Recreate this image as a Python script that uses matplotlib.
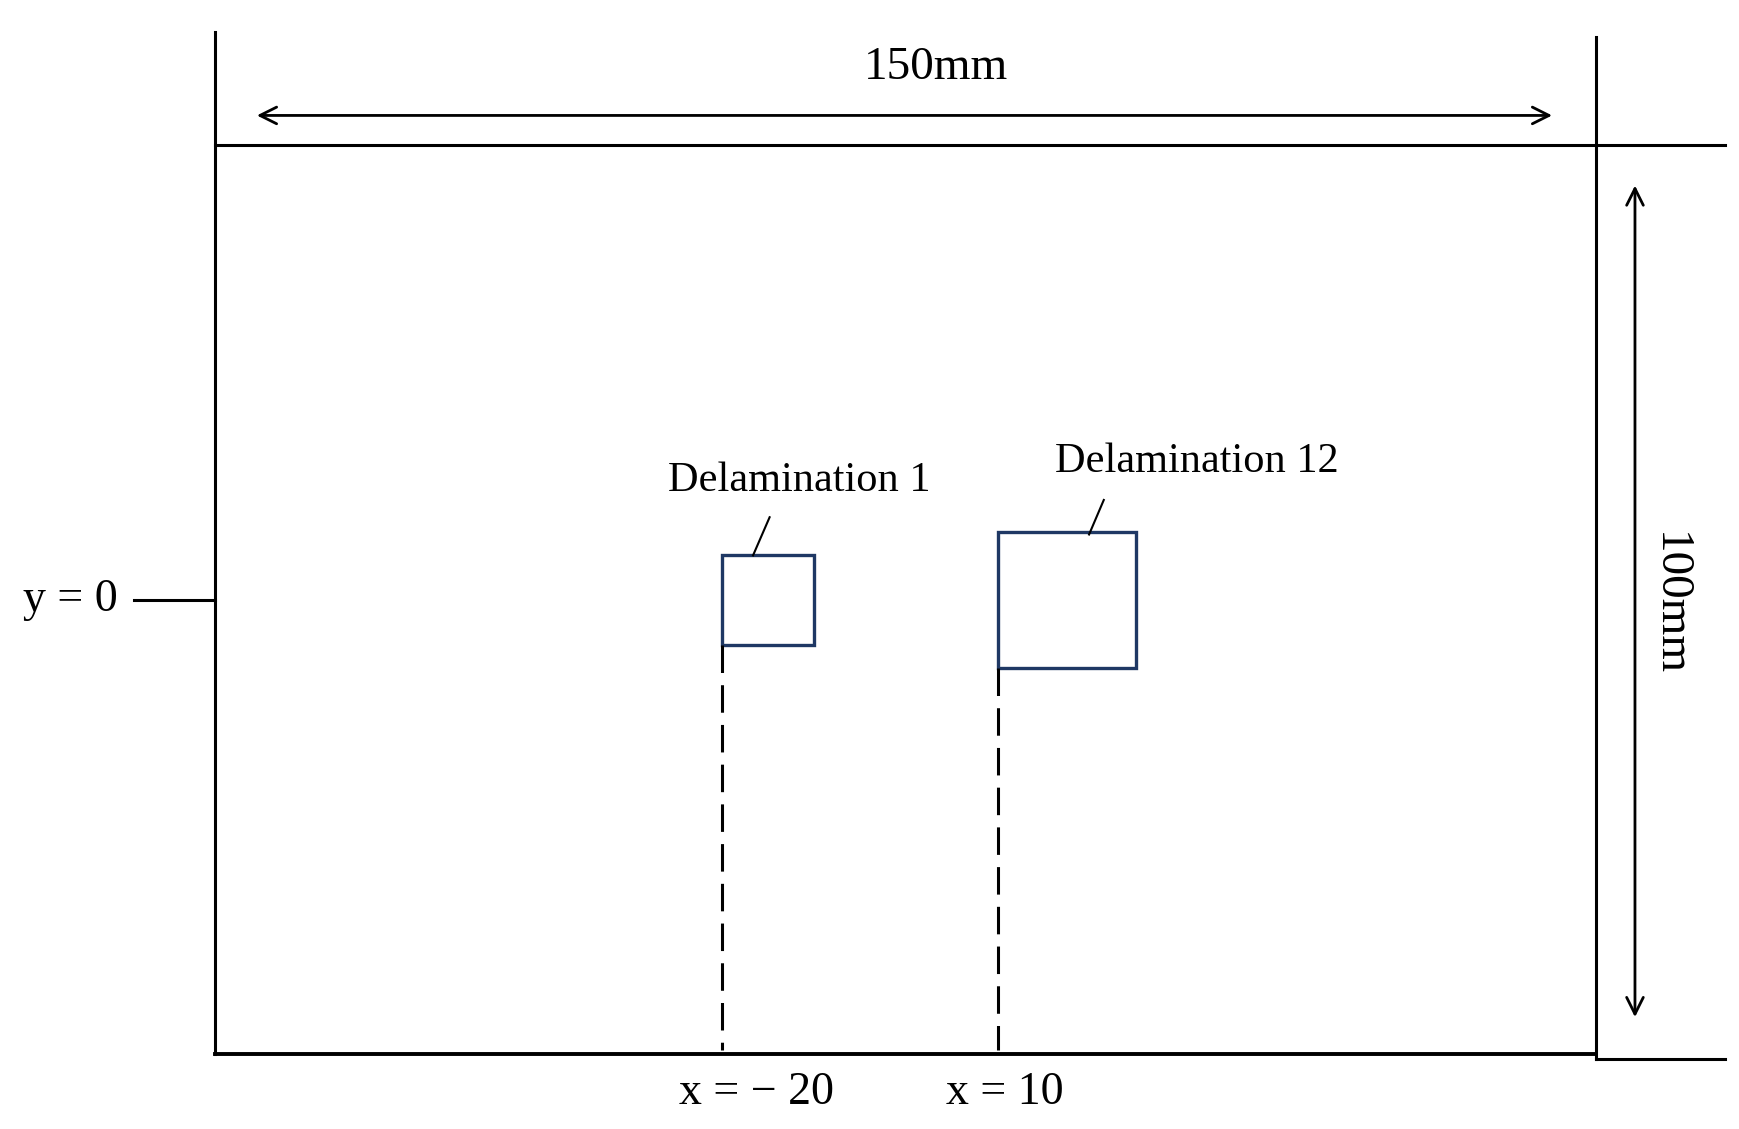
import matplotlib
matplotlib.use("Agg")
import matplotlib.pyplot as plt
from matplotlib.patches import Rectangle

# Geometry in mm (plate centred at origin)
plate_w, plate_h = 150, 100
delam_names = ["Delamination 1", "Delamination 12"]
delam_x = [-20, 10]        # left edge x (mm)
delam_size = [10, 15]      # side length (mm)
x_labels = ["x = \u2212 20", "x = 10"]

fig = plt.figure(figsize=(17.39, 11.29), dpi=100)
ax = fig.add_axes([0, 0, 1, 1])
ax.set_xlim(-98.4, 90.5)
ax.set_ylim(-58.2, 66.0)
ax.axis("off")
lw = 2.2
k = "black"
L, R, B, T = -plate_w/2, plate_w/2, -plate_h/2, plate_h/2
ax.plot([L, 89], [T, T], color=k, lw=lw)
ax.plot([L, R], [B, B], color=k, lw=lw+0.6)
ax.plot([R, 89], [B-0.5, B-0.5], color=k, lw=lw)
ax.plot([L, L], [B, 62.5], color=k, lw=lw)
ax.plot([R, R], [B-0.5, 61.9], color=k, lw=lw)
ax.annotate("", xy=(-70.8, 53.3), xytext=(70.5, 53.3),
            arrowprops=dict(arrowstyle="<->", lw=2, color=k, mutation_scale=30))
ax.annotate("", xy=(79.2, 45.9), xytext=(79.2, -46.2),
            arrowprops=dict(arrowstyle="<->", lw=2, color=k, mutation_scale=30))
fs = dict(family="Liberation Serif", color=k)
ax.text(3.3, 58.6, "150mm", ha="center", va="center", fontsize=34, **fs)
ax.text(82.9, -0.4, "100mm", ha="center", va="center", rotation=-90, fontsize=34, **fs)
ax.plot([-83.8, L], [0, 0], color=k, lw=lw)
ax.text(-90.8, 0, "y = 0", ha="center", va="center", fontsize=33, **fs)

label_pos = [(-11.6, 13.1), (31.6, 15.2)]
leaders = [((-16.6, 4.9), (-14.8, 9.1)), ((19.9, 7.2), (21.5, 11.0))]
xl_pos = [-16.2, 10.7]
for name, x0, s, lp, ld, xl, xp in zip(delam_names, delam_x, delam_size, label_pos, leaders, x_labels, xl_pos):
    ax.add_patch(Rectangle((x0, -s/2), s, s, fill=False, ec="#1F3864", lw=2.4))
    ax.plot([x0, x0], [-s/2, B + 0.5], color=k, lw=lw, ls=(0, (9, 4)))
    ax.text(lp[0], lp[1], name, ha="center", va="center", fontsize=30.5, **fs)
    ax.plot([ld[0][0], ld[1][0]], [ld[0][1], ld[1][1]], color=k, lw=1.5)
    ax.text(xp, -54.2, xl, ha="center", va="center", fontsize=33, **fs)

fig.savefig("out.png", dpi=100, facecolor="white")
